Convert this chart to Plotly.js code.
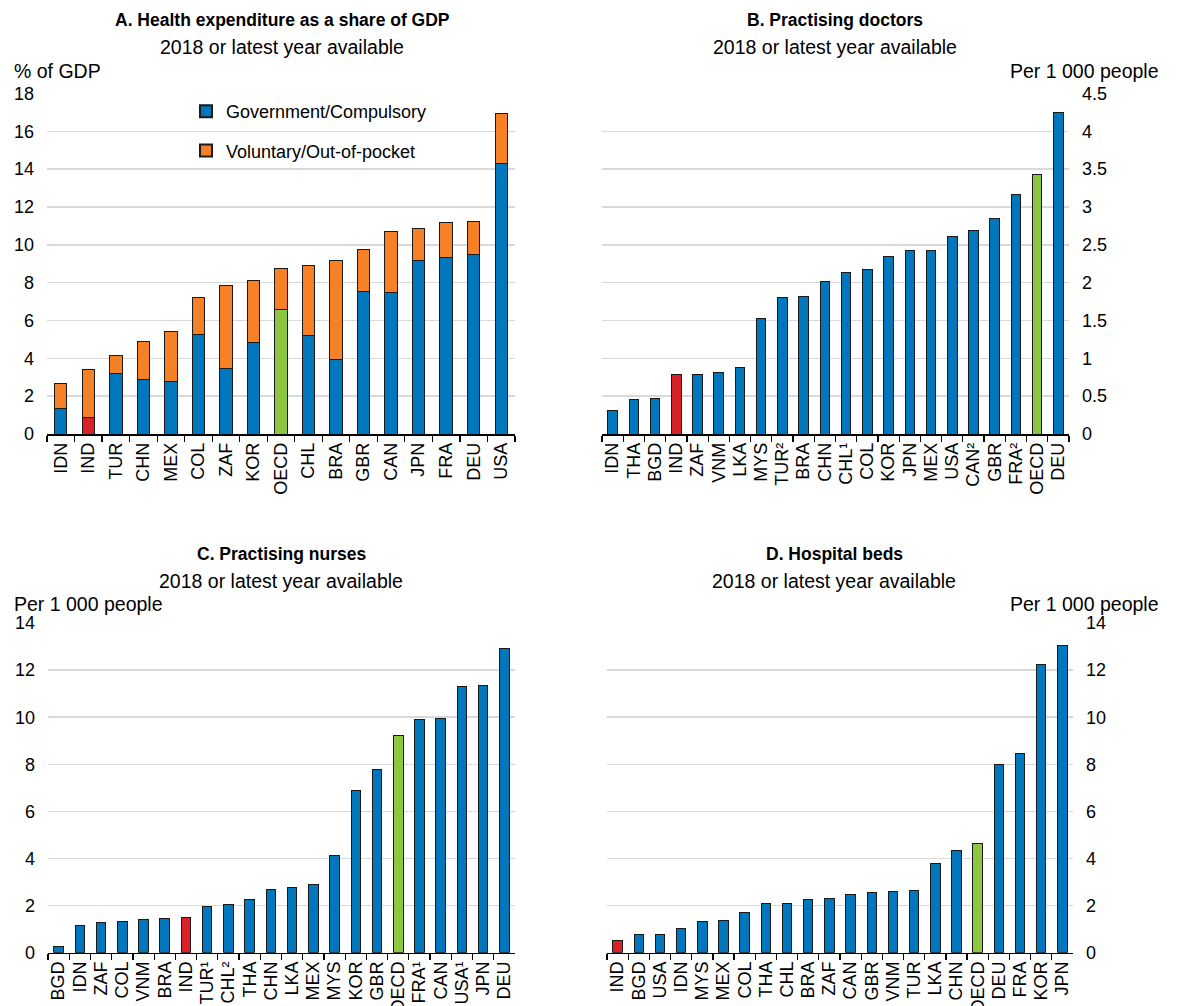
<!DOCTYPE html>
<html>
<head>
<meta charset="utf-8">
<script src="https://cdn.plot.ly/plotly-3.0.1.min.js"></script>
<style>html,body{margin:0;padding:0;background:#fff;}#chart{width:1177px;height:1006px;}</style>
</head>
<body>
<div id="chart"></div>
<script>
// Panel A: health expenditure, % of GDP
const catsA = ["IDN","IND","TUR","CHN","MEX","COL","ZAF","KOR","OECD","CHL","BRA","GBR","CAN","JPN","FRA","DEU","USA"];
const govA = [1.37,0.88,3.22,2.87,2.78,5.28,3.45,4.82,6.56,5.19,3.92,7.53,7.48,9.15,9.31,9.47,14.31];
const totalA = [2.66,3.40,4.14,4.89,5.42,7.21,7.87,8.09,8.76,8.89,9.17,9.75,10.72,10.89,11.17,11.23,16.93];
const volA = totalA.map((t,i)=>+(t-govA[i]).toFixed(2));

// Panel B: practising doctors per 1 000 people
const catsB = ["IDN","THA","BGD","IND","ZAF","VNM","LKA","MYS","TUR²","BRA","CHN","CHL¹","COL","KOR","JPN","MEX","USA","CAN²","GBR","FRA²","OECD","DEU"];
const valsB = [0.31,0.46,0.47,0.78,0.79,0.81,0.88,1.53,1.81,1.82,2.01,2.14,2.17,2.34,2.42,2.42,2.61,2.69,2.85,3.17,3.43,4.25];

// Panel C: practising nurses per 1 000 people
const catsC = ["BGD","IDN","ZAF","COL","VNM","BRA","IND","TUR¹","CHL²","THA","CHN","LKA","MEX","MYS","KOR","GBR","OECD","FRA¹","CAN","USA¹","JPN","DEU"];
const valsC = [0.26,1.15,1.30,1.32,1.43,1.46,1.49,1.96,2.05,2.28,2.69,2.79,2.89,4.11,6.90,7.79,9.21,9.92,9.96,11.29,11.34,12.92];

// Panel D: hospital beds per 1 000 people
const catsD = ["IND","BGD","USA","IDN","MYS","MEX","COL","THA","CHL","BRA","ZAF","CAN","GBR","VNM","TUR","LKA","CHN","OECD","DEU","FRA","KOR","JPN"];
const valsD = [0.51,0.79,0.79,1.03,1.32,1.37,1.70,2.10,2.10,2.28,2.31,2.49,2.54,2.58,2.66,3.80,4.32,4.62,7.99,8.47,12.24,13.05];

const BLUE = "#0077bd", ORANGE = "#f58025", RED = "#d92128", GREEN = "#8dc63f";
const FONT = "'Liberation Sans', Arial, sans-serif";

function colorsFor(cats, base){
  return cats.map(c => c === "IND" ? RED : (c === "OECD" ? GREEN : base));
}
const outline = {color:"#1a1a1a", width:1};

const traces = [
  {type:"bar", x:catsA, y:govA, name:"Government/Compulsory", xaxis:"x", yaxis:"y", legendgroup:"g1",
   marker:{color:colorsFor(catsA, BLUE), line:outline}, showlegend:true},
  {type:"bar", x:catsA, y:volA, name:"Voluntary/Out-of-pocket", xaxis:"x", yaxis:"y", legendgroup:"g2",
   marker:{color:ORANGE, line:outline}, showlegend:true},
  {type:"bar", x:catsB, y:valsB, xaxis:"x2", yaxis:"y2", showlegend:false,
   marker:{color:colorsFor(catsB, BLUE), line:outline}},
  {type:"bar", x:catsC, y:valsC, xaxis:"x3", yaxis:"y3", showlegend:false,
   marker:{color:colorsFor(catsC, BLUE), line:outline}},
  {type:"bar", x:catsD, y:valsD, xaxis:"x4", yaxis:"y4", showlegend:false,
   marker:{color:colorsFor(catsD, BLUE), line:outline}}
];

const W = 1177, H = 1006;
const px = v => v / W;
const py = v => 1 - v / H;

function xax(d0, d1, anchor){
  return {domain:[px(d0), px(d1)], anchor:anchor, type:"category",
    tickmode:"linear", tick0:0, dtick:1,
    showline:true, linecolor:"#000", linewidth:1.5, ticks:"outside", ticklen:6, tickwidth:1.2,
    tickcolor:"#000", tickson:"boundaries", tickangle:-90, showgrid:false, fixedrange:true,
    tickfont:{size:18, color:"#000", family:FONT}};
}
function yax(y0, y1, anchor, range, dtick, side){
  return {domain:[py(y1), py(y0)], anchor:anchor, range:range, dtick:dtick, side:side,
    showgrid:true, gridcolor:"#d9d9d9", gridwidth:1.5, zeroline:false, showline:false,
    ticks:"", ticklabelstandoff:12, tickfont:{size:18, color:"#000", family:FONT}, fixedrange:true};
}

const layout = {
  width:W, height:H, paper_bgcolor:"#fff", plot_bgcolor:"#fff",
  margin:{l:0, r:0, t:0, b:0}, barmode:"stack", bargap:0.55,
  font:{family:FONT, color:"#000", size:18},
  showlegend:true,
  legend:{x:px(186), y:py(93), xanchor:"left", yanchor:"top", bgcolor:"rgba(0,0,0,0)",
    traceorder:"grouped", tracegroupgap:13,
    font:{size:18, family:FONT}, itemsizing:"constant"},
  xaxis: xax(47, 515, "y"),
  yaxis: yax(93.5, 434, "x", [0, 18], 2, "left"),
  xaxis2: xax(602, 1069, "y2"),
  yaxis2: yax(93.5, 434, "x2", [0, 4.5], 0.5, "right"),
  xaxis3: xax(48, 515, "y3"),
  yaxis3: yax(623, 952.7, "x3", [0, 14], 2, "left"),
  xaxis4: xax(607, 1073, "y4"),
  yaxis4: yax(623, 952.7, "x4", [0, 14], 2, "right"),
  annotations: [
    {text:"<b>A. Health expenditure as a share of GDP</b>", x:px(282), y:py(20), size:17.5},
    {text:"2018 or latest year available", x:px(282), y:py(47)},
    {text:"% of GDP", x:px(12), y:py(71), xanchor:"left"},
    {text:"<b>B. Practising doctors</b>", x:px(835), y:py(20), size:17.5},
    {text:"2018 or latest year available", x:px(835), y:py(47)},
    {text:"Per 1 000 people", x:px(1161), y:py(71), xanchor:"right"},
    {text:"<b>C. Practising nurses</b>", x:px(281), y:py(554), size:17.5},
    {text:"2018 or latest year available", x:px(281), y:py(581)},
    {text:"Per 1 000 people", x:px(12), y:py(604), xanchor:"left"},
    {text:"<b>D. Hospital beds</b>", x:px(834), y:py(554), size:17.5},
    {text:"2018 or latest year available", x:px(834), y:py(581)},
    {text:"Per 1 000 people", x:px(1161), y:py(604), xanchor:"right"}
  ].map(a => {
    const o = Object.assign({xref:"paper", yref:"paper", showarrow:false, yanchor:"middle",
      xanchor:a.xanchor || "center", font:{size:a.size || 19.5, color:"#000", family:FONT}}, a);
    delete o.size; return o;
  })
};

Plotly.newPlot("chart", traces, layout, {displayModeBar:false, staticPlot:true});
</script>
</body>
</html>
